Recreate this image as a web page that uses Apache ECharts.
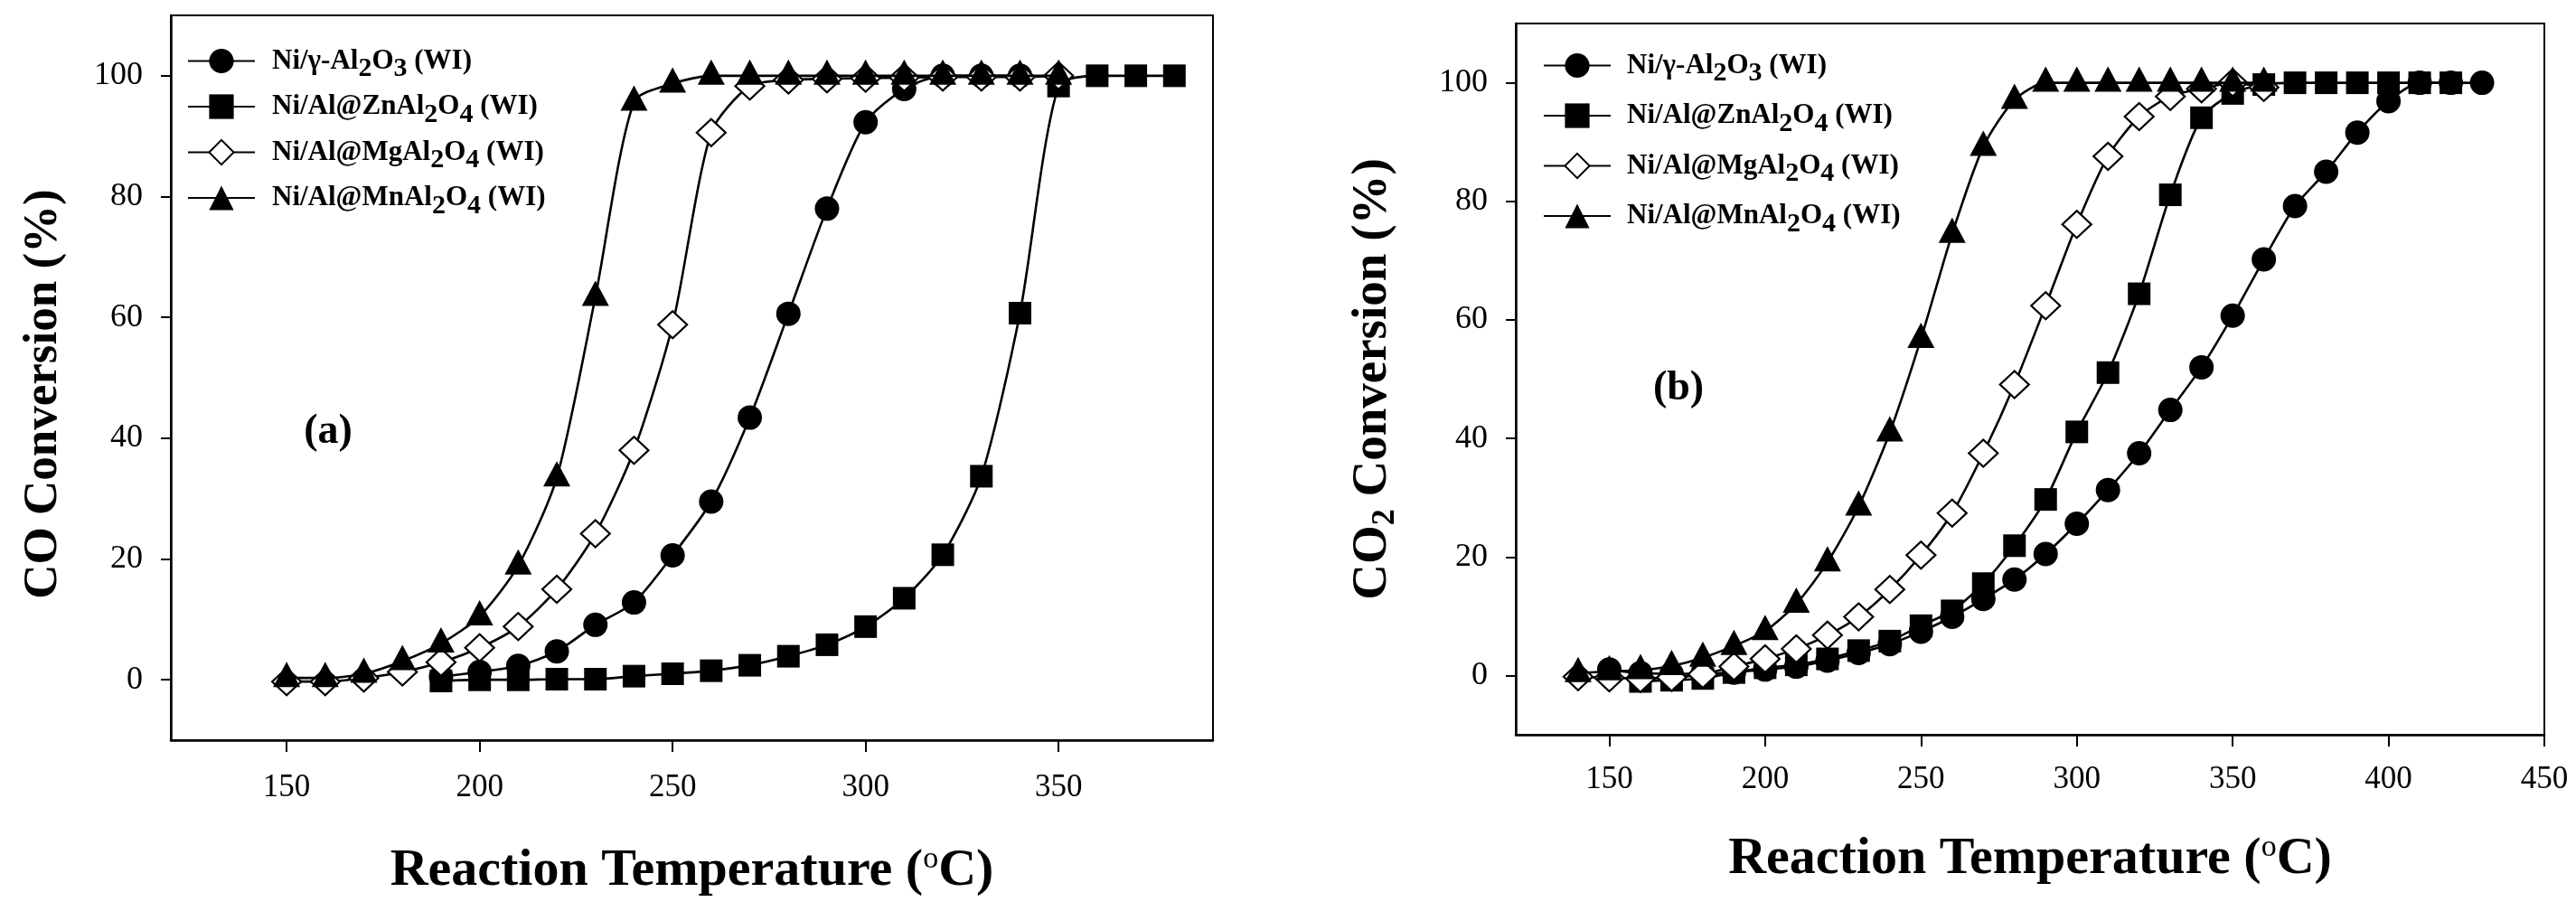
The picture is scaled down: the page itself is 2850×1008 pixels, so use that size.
<!DOCTYPE html>
<html>
<head>
<meta charset="utf-8">
<script src="https://cdn.jsdelivr.net/npm/echarts@6/dist/echarts.min.js"></script>
<style>html,body{margin:0;padding:0;background:#fff}#c{width:2850px;height:1008px}</style>
</head>
<body>
<div id="c"></div>
<script>
// ---------- series names ----------
const seriesNames = ['Ni/γ-Al2O3 (WI)', 'Ni/Al@ZnAl2O4 (WI)', 'Ni/Al@MgAl2O4 (WI)', 'Ni/Al@MnAl2O4 (WI)'];

// ---------- panel (a): CO conversion ----------
const aTempGamma = [190,200,210,220,230,240,250,260,270,280,290,300,310,320,330,340];
const aConvGamma = [0.5,1.3,2.3,4.7,9.1,12.8,20.6,29.5,43.4,60.6,78.0,92.3,97.8,100,100,100];
const aTempZn = [190,200,210,220,230,240,250,260,270,280,290,300,310,320,330,340,350,360,370,380];
const aConvZn = [-0.2,0,0,0.1,0.1,0.6,1.0,1.5,2.4,3.9,5.8,8.8,13.5,20.7,33.7,60.7,98.3,100,100,100];
const aTempMg = [150,160,170,180,190,200,210,220,230,240,250,260,270,280,290,300,310,320,330,340,350];
const aConvMg = [-0.3,-0.3,0.3,1.3,2.9,5.3,8.8,15.0,24.2,38.0,58.8,90.6,98.3,99.3,99.5,99.6,99.7,99.8,99.8,99.8,100];
const aTempMn = [150,160,170,180,190,200,210,220,230,240,250,260,270,280,290,300,310,320,330,340,350];
const aConvMn = [0.3,0.3,1.0,3.1,6.0,10.5,18.9,33.5,63.4,95.7,98.7,100,100,100,100,100,100,100,100,100,100];

// ---------- panel (b): CO2 conversion ----------
const bTempGamma = [150,160,170,180,190,200,210,220,230,240,250,260,270,280,290,300,310,320,330,340,350,360,370,380,390,400,410,420,430];
const bConvGamma = [1.0,0.4,0.3,0.3,0.5,1.0,1.5,2.5,3.8,5.3,7.4,9.9,12.9,16.2,20.5,25.6,31.3,37.5,44.8,52.0,60.7,70.2,79.2,85.0,91.6,96.9,100,100,100];
const bTempZn = [160,170,180,190,200,210,220,230,240,250,260,270,280,290,300,310,320,330,340,350,360,370,380,390,400,410,420];
const bConvZn = [-1.0,-0.8,-0.5,0.5,1.3,1.8,2.8,4.2,5.8,8.4,10.9,15.5,21.9,29.7,41.1,51.1,64.4,81.1,94.1,98.2,99.7,100,100,100,100,100,100];
const bTempMg = [140,150,160,170,180,190,200,210,220,230,240,250,260,270,280,290,300,310,320,330,340,350,360];
const bConvMg = [-0.2,-0.4,-0.5,-0.3,0.2,1.5,2.8,4.5,6.8,9.9,14.5,20.3,27.4,37.5,49.1,62.4,76.1,87.6,94.3,97.7,99.0,100,99.2];
const bTempMn = [140,150,160,170,180,190,200,210,220,230,240,250,260,270,280,290,300,310,320,330,340,350,360];
const bConvMn = [0.4,0.7,0.9,1.6,3.0,5.0,7.5,12.1,19.1,28.5,41.0,56.8,74.5,89.2,97.1,100,100,100,100,100,100,100,100];

// ---------- tick labels ----------
const aXTicks = [150,200,250,300,350];
const bXTicks = [150,200,250,300,350,400,450];
const yTicks = [0,20,40,60,80,100];

const FONT = "'Liberation Serif','Times New Roman',serif";

const zip = (xs, ys) => xs.map((x, i) => [x, ys[i]]);

const styles = [
  { symbol: 'circle', symbolSize: 27, itemStyle: { color: '#000', borderColor: '#000', borderWidth: 0 } },
  { symbol: 'rect', symbolSize: 25, itemStyle: { color: '#000', borderColor: '#000', borderWidth: 0 } },
  { symbol: 'diamond', symbolSize: [32, 30], itemStyle: { color: '#fff', borderColor: '#000', borderWidth: 2.2 } },
  { symbol: 'triangle', symbolSize: [30, 28], symbolOffset: [0, -4], itemStyle: { color: '#000', borderColor: '#000', borderWidth: 0 } }
];

function mk(idx, gridIdx, xs, ys) {
  const st = styles[idx];
  return Object.assign({
    type: 'line',
    name: seriesNames[idx],
    xAxisIndex: gridIdx,
    yAxisIndex: gridIdx,
    data: zip(xs, ys),
    showAllSymbol: true,
    smooth: 0.25,
    lineStyle: { color: '#000', width: 2.6 },
    emphasis: { disabled: true },
    animation: false,
    z: 2 + idx
  }, st);
}

function legendFmt(name) {
  // digits are subscripts; everything else normal bold text
  return '{g| }' + name.split(/(\d)/).filter(p => p.length).map(p => /^\d$/.test(p) ? '{s|' + p + '}' : '{n|' + p + '}').join('');
}

function legendRich(gap) {
  return {
    g: { fontSize: 10, width: gap },
    n: { fontSize: 31, fontWeight: 'bold', fontFamily: FONT, color: '#000' },
    s: { fontSize: 30, fontWeight: 'bold', fontFamily: FONT, padding: [18, 0, 0, 0], color: '#000' }
  };
}

function xAxisCfg(gridIdx, min, max, ticks, gap, labelMargin) {
  return {
    type: 'value', gridIndex: gridIdx, min: min, max: max,
    name: '{m|Reaction Temperature (}{sup|o}{m|C)}',
    nameLocation: 'middle', nameGap: gap,
    nameTextStyle: {
      fontFamily: FONT, fontWeight: 'bold', fontSize: 58, color: '#000',
      rich: {
        m: { fontFamily: FONT, fontWeight: 'bold', fontSize: 58, color: '#000' },
        sup: { fontFamily: FONT, fontWeight: 'normal', fontSize: 34, color: '#000', padding: [0, 0, 26, 0] }
      }
    },
    axisLine: { show: true, onZero: false, lineStyle: { color: '#000', width: 2.5 } },
    axisTick: { show: true, inside: false, length: 13, customValues: ticks, lineStyle: { color: '#000', width: 2 } },
    axisLabel: { customValues: ticks, margin: labelMargin, fontFamily: FONT, fontSize: 35, color: '#000' },
    splitLine: { show: false }
  };
}

function yAxisCfg(gridIdx, name, rich, gap) {
  return {
    type: 'value', gridIndex: gridIdx, min: -10, max: 110,
    name: name,
    nameLocation: 'middle', nameGap: gap,
    nameTextStyle: {
      fontFamily: FONT, fontWeight: 'bold', fontSize: 53, color: '#000',
      rich: rich
    },
    axisLine: { show: true, onZero: false, lineStyle: { color: '#000', width: 2.5 } },
    axisTick: { show: true, inside: false, length: 11, customValues: yTicks, lineStyle: { color: '#000', width: 2 } },
    axisLabel: { customValues: yTicks, margin: 31, fontFamily: FONT, fontSize: 36, color: '#000' },
    splitLine: { show: false }
  };
}

const chart = echarts.init(document.getElementById('c'), null, { renderer: 'canvas' });

const option = {
  backgroundColor: '#fff',
  animation: false,
  grid: [
    { left: 189, top: 17, width: 1153, height: 802, show: true, borderColor: '#000', borderWidth: 2, backgroundColor: 'transparent' },
    { left: 1677, top: 26, width: 1138, height: 787, show: true, borderColor: '#000', borderWidth: 2, backgroundColor: 'transparent' }
  ],
  legend: [
    {
      orient: 'vertical', left: 202, top: 47, itemWidth: 74, itemHeight: 34, itemGap: 11,
      selectedMode: false, data: seriesNames, formatter: legendFmt,
      textStyle: { fontFamily: FONT, fontWeight: 'bold', fontSize: 31, color: '#000', rich: legendRich(14) }
    },
    {
      orient: 'vertical', left: 1702, top: 52, itemWidth: 74, itemHeight: 34, itemGap: 16,
      selectedMode: false, data: seriesNames, formatter: legendFmt,
      textStyle: { fontFamily: FONT, fontWeight: 'bold', fontSize: 31, color: '#000', rich: legendRich(13) }
    }
  ],
  xAxis: [
    xAxisCfg(0, 120, 390, aXTicks, 115, 35),
    xAxisCfg(1, 120, 450, bXTicks, 108, 32)
  ],
  yAxis: [
    yAxisCfg(0, '{t|CO Conversion (%)}{g| }', {
      t: { fontFamily: FONT, fontWeight: 'bold', fontSize: 53, color: '#000' },
      g: { fontSize: 10, width: 36 }
    }, 114),
    yAxisCfg(1, '{t|CO}{s|2}{t| Conversion (%)}', {
      t: { fontFamily: FONT, fontWeight: 'bold', fontSize: 55, color: '#000' },
      s: { fontFamily: FONT, fontWeight: 'bold', fontSize: 36, color: '#000', padding: [28, 0, 0, 0] }
    }, 126)
  ],
  graphic: [
    { type: 'text', x: 363, y: 478, style: { text: '(a)', align: 'center', verticalAlign: 'middle', fontFamily: FONT, fontWeight: 'bold', fontSize: 46, fill: '#000' } },
    { type: 'text', x: 1857, y: 430, style: { text: '(b)', align: 'center', verticalAlign: 'middle', fontFamily: FONT, fontWeight: 'bold', fontSize: 46, fill: '#000' } }
  ],
  series: [
    mk(0, 0, aTempGamma, aConvGamma),
    mk(1, 0, aTempZn, aConvZn),
    mk(2, 0, aTempMg, aConvMg),
    mk(3, 0, aTempMn, aConvMn),
    mk(0, 1, bTempGamma, bConvGamma),
    mk(1, 1, bTempZn, bConvZn),
    mk(2, 1, bTempMg, bConvMg),
    mk(3, 1, bTempMn, bConvMn)
  ]
};

chart.setOption(option);
</script>
</body>
</html>
